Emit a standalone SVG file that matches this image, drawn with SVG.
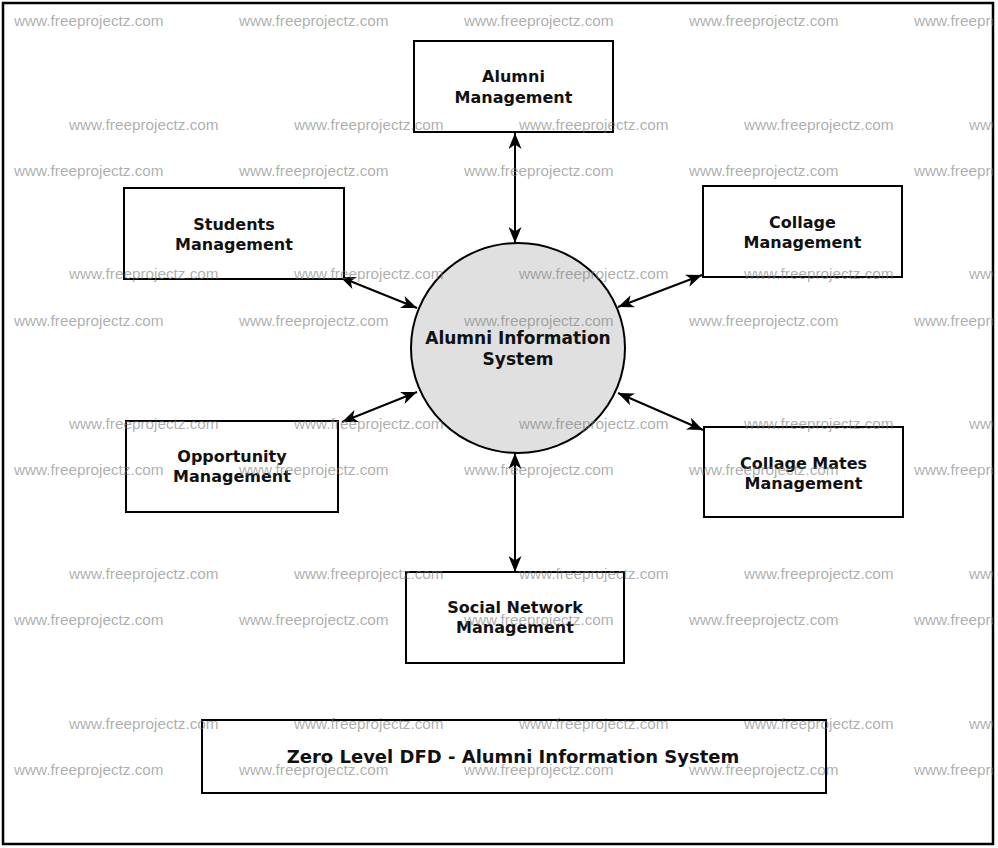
<svg xmlns="http://www.w3.org/2000/svg" width="998" height="848" viewBox="0 0 998 848">
<defs>
<style>
.box{fill:#fff;stroke:#000;stroke-width:2}
.lbl{font-family:"DejaVu Sans","Liberation Sans",sans-serif;font-weight:bold;font-size:16px;fill:#111;text-anchor:middle}
.big{font-size:17px}
.ttl{font-size:18px}
.conn{stroke:#000;stroke-width:2;fill:none;marker-start:url(#ah);marker-end:url(#ah)}
.wm{font-family:"Liberation Sans",Arial,sans-serif;font-size:15.3px;fill:#777;fill-opacity:0.6}
</style>
<marker id="ah" viewBox="0 0 16 13" refX="16" refY="6.5" markerWidth="16" markerHeight="13" markerUnits="userSpaceOnUse" orient="auto-start-reverse">
<path d="M0,0 L16,6.5 L0,13 L4.5,6.5 Z" fill="#000"/>
</marker>
<clipPath id="clip"><rect x="4" y="4" width="989" height="840"/></clipPath>
</defs>
<rect width="998" height="848" fill="#fff"/>
<rect x="3" y="3" width="990" height="841" fill="none" stroke="#000" stroke-width="2.5"/>

<g id="connectors">
<line class="conn" x1="515" y1="133" x2="515" y2="243"/>
<line class="conn" x1="340" y1="277" x2="417" y2="308"/>
<line class="conn" x1="702" y1="275" x2="618" y2="307"/>
<line class="conn" x1="342" y1="422" x2="417" y2="392"/>
<line class="conn" x1="703" y1="430" x2="618" y2="393"/>
<line class="conn" x1="515" y1="453" x2="515" y2="572"/>
</g>

<g id="process">
<ellipse cx="518" cy="348" rx="107" ry="105" fill="#e0e0e0" stroke="#000" stroke-width="2"/>
<text class="lbl big" x="518" y="344">Alumni Information</text>
<text class="lbl big" x="518" y="365">System</text>
</g>

<g id="alumni-management">
<rect class="box" x="414" y="41" width="199" height="91"/>
<text class="lbl" x="513.5" y="82">Alumni</text>
<text class="lbl" x="513.5" y="103">Management</text>
</g>

<g id="students-management">
<rect class="box" x="124" y="188" width="220" height="91"/>
<text class="lbl" x="234" y="230">Students</text>
<text class="lbl" x="234" y="250">Management</text>
</g>

<g id="collage-management">
<rect class="box" x="703" y="186" width="199" height="91"/>
<text class="lbl" x="802.5" y="228">Collage</text>
<text class="lbl" x="802.5" y="248">Management</text>
</g>

<g id="opportunity-management">
<rect class="box" x="126" y="421" width="212" height="91"/>
<text class="lbl" x="232" y="462">Opportunity</text>
<text class="lbl" x="232" y="482">Management</text>
</g>

<g id="collage-mates-management">
<rect class="box" x="704" y="427" width="199" height="90"/>
<text class="lbl" x="803.5" y="469">Collage Mates</text>
<text class="lbl" x="803.5" y="489">Management</text>
</g>

<g id="social-network-management">
<rect class="box" x="406" y="572" width="218" height="91"/>
<text class="lbl" x="515" y="613">Social Network</text>
<text class="lbl" x="515" y="633">Management</text>
</g>

<g id="title">
<rect class="box" x="202" y="720" width="624" height="73"/>
<text class="lbl ttl" x="513" y="763">Zero Level DFD - Alumni Information System</text>
</g>

<g id="watermarks" clip-path="url(#clip)">
<g class="wm">
<text x="14" y="26">www.freeprojectz.com</text><text x="239" y="26">www.freeprojectz.com</text><text x="464" y="26">www.freeprojectz.com</text><text x="689" y="26">www.freeprojectz.com</text><text x="914" y="26">www.freeprojectz.com</text>
<text x="69" y="130">www.freeprojectz.com</text><text x="294" y="130">www.freeprojectz.com</text><text x="519" y="130">www.freeprojectz.com</text><text x="744" y="130">www.freeprojectz.com</text><text x="969" y="130">www.freeprojectz.com</text>
<text x="14" y="176">www.freeprojectz.com</text><text x="239" y="176">www.freeprojectz.com</text><text x="464" y="176">www.freeprojectz.com</text><text x="689" y="176">www.freeprojectz.com</text><text x="914" y="176">www.freeprojectz.com</text>
<text x="69" y="279">www.freeprojectz.com</text><text x="294" y="279">www.freeprojectz.com</text><text x="519" y="279">www.freeprojectz.com</text><text x="744" y="279">www.freeprojectz.com</text><text x="969" y="279">www.freeprojectz.com</text>
<text x="14" y="326">www.freeprojectz.com</text><text x="239" y="326">www.freeprojectz.com</text><text x="464" y="326">www.freeprojectz.com</text><text x="689" y="326">www.freeprojectz.com</text><text x="914" y="326">www.freeprojectz.com</text>
<text x="69" y="429">www.freeprojectz.com</text><text x="294" y="429">www.freeprojectz.com</text><text x="519" y="429">www.freeprojectz.com</text><text x="744" y="429">www.freeprojectz.com</text><text x="969" y="429">www.freeprojectz.com</text>
<text x="14" y="475">www.freeprojectz.com</text><text x="239" y="475">www.freeprojectz.com</text><text x="464" y="475">www.freeprojectz.com</text><text x="689" y="475">www.freeprojectz.com</text><text x="914" y="475">www.freeprojectz.com</text>
<text x="69" y="579">www.freeprojectz.com</text><text x="294" y="579">www.freeprojectz.com</text><text x="519" y="579">www.freeprojectz.com</text><text x="744" y="579">www.freeprojectz.com</text><text x="969" y="579">www.freeprojectz.com</text>
<text x="14" y="625">www.freeprojectz.com</text><text x="239" y="625">www.freeprojectz.com</text><text x="464" y="625">www.freeprojectz.com</text><text x="689" y="625">www.freeprojectz.com</text><text x="914" y="625">www.freeprojectz.com</text>
<text x="69" y="729">www.freeprojectz.com</text><text x="294" y="729">www.freeprojectz.com</text><text x="519" y="729">www.freeprojectz.com</text><text x="744" y="729">www.freeprojectz.com</text><text x="969" y="729">www.freeprojectz.com</text>
<text x="14" y="775">www.freeprojectz.com</text><text x="239" y="775">www.freeprojectz.com</text><text x="464" y="775">www.freeprojectz.com</text><text x="689" y="775">www.freeprojectz.com</text><text x="914" y="775">www.freeprojectz.com</text>
</g>
</g>
</svg>
